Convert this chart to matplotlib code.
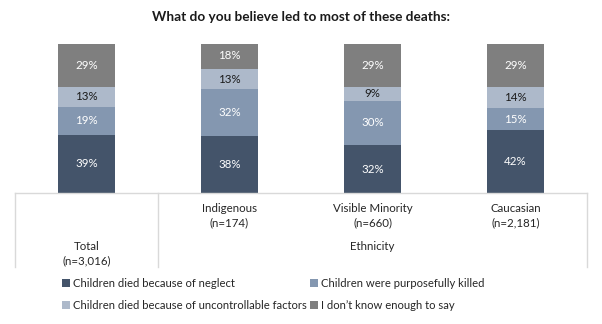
import numpy as np
import matplotlib.pyplot as plt
import matplotlib.transforms as mtransforms

plt.rcParams['font.family'] = ['Lato', 'DejaVu Sans']

# data
groups = ['Total', 'Indigenous', 'Visible Minority', 'Caucasian']
group_n = ['(n=3,016)', '(n=174)', '(n=660)', '(n=2,181)']
series = ['Children died because of neglect',
          'Children were purposefully killed',
          'Children died because of uncontrollable factors',
          'I don\u2019t know enough to say']
neglect = [39, 38, 32, 42]
killed = [19, 32, 30, 15]
uncontrollable = [13, 13, 9, 14]
dont_know = [29, 18, 29, 29]

colors = ['#44546A', '#8497B0', '#ADB9CA', '#7F7F7F']
label_colors = ['white', 'white', '#1a1a1a', 'white']

fig = plt.figure(figsize=(6.02, 3.24), dpi=100)
ax = fig.add_axes([15 / 602, 0.4043, 572 / 602, 0.4599])

x = np.arange(len(groups))
bottom = np.zeros(len(groups))
for vals, col, lc, name in zip([neglect, killed, uncontrollable, dont_know],
                               colors, label_colors, series):
    vals = np.array(vals, dtype=float)
    ax.bar(x, vals, 0.4, bottom=bottom, color=col, label=name, edgecolor='none')
    for xi, b, v in zip(x, bottom, vals):
        ax.text(xi, b + v / 2, f'{int(v)}%', ha='center', va='center',
                fontsize=8.3, color=lc)
    bottom += vals

# x limits chosen so the box spans px 15..587
ax.set_xlim(-0.5, 3.5)
ax.set_ylim(0, 100)
ax.axis('off')

# category table below the bars
trans = mtransforms.blended_transform_factory(ax.transData, ax.transAxes)
line_kw = dict(color='#D9D9D9', lw=1, transform=trans, clip_on=False)
box_bottom = -0.497
ax.plot([-0.5, 3.5], [0, 0], **line_kw)
for xv in [-0.5, 0.5, 3.5]:
    ax.plot([xv, xv], [0, box_bottom], **line_kw)

for i in range(1, 4):
    ax.text(x[i], -0.151, f'{groups[i]}\n{group_n[i]}', ha='center', va='center',
            fontsize=8.3, color='#262626', transform=trans, linespacing=1.35)
ax.text(x[0], -0.406, f'{groups[0]}\n{group_n[0]}', ha='center', va='center',
        fontsize=8.3, color='#262626', transform=trans, linespacing=1.35)
ax.text(2, -0.356, 'Ethnicity', ha='center', va='center',
        fontsize=8.3, color='#262626', transform=trans)

fig.text(0.5, 1 - 17 / 324, 'What do you believe led to most of these deaths:',
         ha='center', va='center', fontsize=9.8, fontweight='bold', color='#1a1a1a')

handles, labels = ax.get_legend_handles_labels()
# reorder so rows read: neglect / killed, uncontrollable / don't know
leg = fig.legend([handles[0], handles[2], handles[1], handles[3]],
                 [labels[0], labels[2], labels[1], labels[3]],
                 ncol=2, loc='upper left', bbox_to_anchor=(62 / 602, 1 - 278 / 324),
                 frameon=False, fontsize=8.1, handlelength=0.7, handleheight=0.7,
                 handletextpad=0.3, columnspacing=0.25, labelspacing=0.95,
                 borderpad=0, borderaxespad=0)
for t in leg.get_texts():
    t.set_color('#262626')

fig.savefig('out.png', dpi=100)
